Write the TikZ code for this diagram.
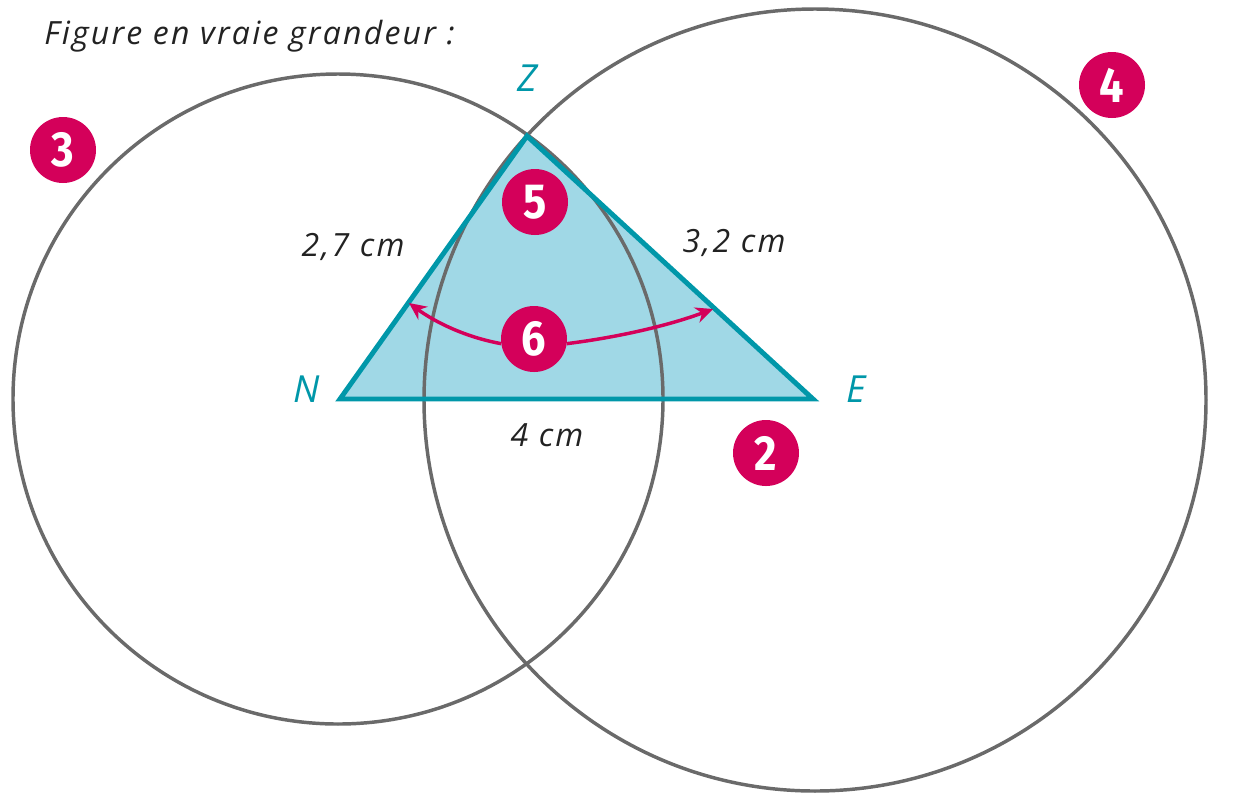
\documentclass[tikz,border=0pt]{standalone}
\usepackage{fontspec}
\setmainfont{Open Sans}
\newfontfamily\handfont[LetterSpace=7]{Open Sans}
\newfontfamily\numfont[FakeStretch=0.88]{Fira Sans}
\usetikzlibrary{arrows.meta}
\definecolor{teal0}{HTML}{0097A9}
\definecolor{tealfill}{HTML}{A0D8E6}
\definecolor{ring}{HTML}{6A6A6A}
\definecolor{mag}{HTML}{D4005A}
\definecolor{ink}{HTML}{222222}
\tikzset{
  ringline/.style={draw=ring,line width=2.6pt},
  badge/.style={circle,fill=mag,text=white,minimum size=49.5pt,inner sep=0pt,font=\numfont\bfseries\fontsize{37}{37}\selectfont},
  hand/.style={text=ink,inner sep=0pt,font=\handfont\itshape\fontsize{24}{24}\selectfont},
  vertex/.style={text=teal0,inner sep=0pt,font=\handfont\itshape\fontsize{28}{28}\selectfont},
  tri/.style={draw=teal0,line width=3.7pt,miter limit=10},
  arc/.style={draw=mag,line width=2.6pt,-{Stealth[length=13pt,width=12pt]}}
}
\begin{document}
\begin{tikzpicture}[x=0.75pt,y=-0.75pt]
\useasboundingbox (0,0) rectangle (1252,794);
\coordinate (N) at (340,399);
\coordinate (E) at (813,399);
\coordinate (Z) at (527,136);
\coordinate (tipL) at (409,303);
\coordinate (tipR) at (713,309);
\fill[tealfill] (N) -- (E) -- (Z) -- cycle;
\draw[ringline] (338,399) circle[radius=325];
\draw[ringline] (815,400) circle[radius=391];
\draw[tri] (N) -- (E) -- (Z) -- cycle;
\node[hand,anchor=west] (title) at (44,36) {Figure en vraie grandeur :};
\node[vertex] (lz) at (527,78) {Z};
\node[vertex] (ln) at (307,389) {N};
\node[vertex] (le) at (856,389) {E};
\node[hand] (a) at (353,247) {2,7 cm};
\node[hand] (b) at (734,243) {3,2 cm};
\node[hand] (c) at (547,435) {4 cm};
\node[badge] (b2) at (766,453) {2};
\node[badge] (b3) at (63,150) {3};
\node[badge] (b4) at (1112,85) {4};
\node[badge] (b5) at (535,202) {5};
\node[badge] (b6) at (534,339) {6};
\draw[arc] (b6.188) .. controls (465,337) and (435,322) .. (tipL);
\draw[arc] (b6.-8) .. controls (620,337) and (670,325) .. (tipR);
\end{tikzpicture}
\end{document}
